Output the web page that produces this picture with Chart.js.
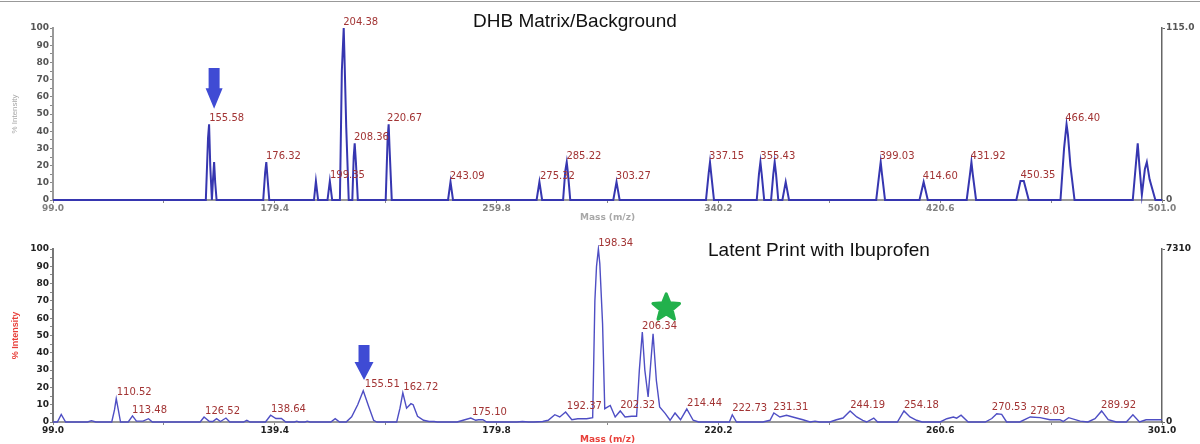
<!DOCTYPE html>
<html>
<head>
<meta charset="utf-8">
<script src="https://cdn.jsdelivr.net/npm/chart.js@4.4.1/dist/chart.umd.min.js"></script>
<style>
  body { margin: 0; background: #fff; }
  .box { position: relative; width: 1200px; height: 222px; }
  #rule { position: absolute; left: 0; top: 1px; width: 1200px; height: 1px; background: #999; }
</style>
</head>
<body>
<div id="rule"></div>
<div class="box"><canvas id="topchart" width="1200" height="222"></canvas></div>
<div class="box"><canvas id="botchart" width="1200" height="222"></canvas></div>
<script>
// ---- DHB Matrix / Background spectrum (m/z, % intensity)
const topMz = [99.0,
  154.4, 155.2, 155.58, 156.0, 156.6, 157.0, 157.4, 157.8, 158.3,
  175.2, 175.9, 176.32, 176.7, 177.4,
  193.6, 194.3, 195.1,
  198.5, 199.35, 200.2,
  203.0, 203.7, 204.38, 204.6, 205.3, 206.2,
  207.5, 208.0, 208.36, 208.8, 209.5,
  219.6, 220.3, 220.67, 221.0, 221.8,
  242.2, 243.09, 244.0,
  274.3, 275.32, 276.3,
  283.9, 284.7, 285.22, 285.7, 286.5,
  302.1, 303.27, 304.4,
  335.7, 336.7, 337.15, 337.6, 338.6,
  354.1, 354.9, 355.43, 355.9, 356.8,
  359.3, 360.1, 360.6, 361.1, 361.9,
  363.4, 364.6, 365.8,
  397.4, 398.5, 399.03, 399.5, 400.6,
  413.1, 414.6, 416.1,
  430.2, 431.4, 431.92, 432.4, 433.6,
  448.2, 449.7, 450.9, 452.7,
  464.2, 465.5, 466.4, 466.9, 467.8, 469.3,
  490.4, 491.6, 492.2, 492.8, 493.7, 494.8, 495.5, 496.5, 498.6,
  501.0];
const topInt = [0,
  0, 36, 44, 20, 0, 12, 22, 10, 0,
  0, 16, 22, 14, 0,
  0, 11, 0,
  0, 11, 0,
  0, 75, 100, 87, 42, 0,
  0, 25, 33, 22, 0,
  0, 36, 44, 30, 0,
  0, 10.5, 0,
  0, 10.5, 0,
  0, 17, 22, 15, 0,
  0, 10.5, 0,
  0, 16, 22, 15, 0,
  0, 15, 22, 15, 0,
  0, 15, 22, 15, 0,
  0, 10.5, 0,
  0, 15, 22, 15, 0,
  0, 10.5, 0,
  0, 15, 22, 15, 0,
  0, 11, 11, 0,
  0, 30, 44, 38, 20, 0,
  0, 22, 33, 20, 3, 18, 22, 12, 0,
  0];
const topLabels   = ['155.58','176.32','199.35','204.38','208.36','220.67','243.09','275.32','285.22','303.27','337.15','355.43','399.03','414.60','431.92','450.35','466.40'];
const topLabelMz  = [155.6, 176.2, 199.4, 204.2, 208.1, 220.1, 242.8, 275.5, 285.1, 303.0, 336.8, 355.4, 398.6, 414.3, 431.6, 449.7, 465.9];
const topLabelInt = [44, 22, 11, 100, 33, 44, 10.5, 10.5, 22, 10.5, 22, 22, 22, 10.5, 22, 11, 44];
const topTicks = [99.0, 179.4, 259.8, 340.2, 420.6, 501.0];

// ---- Latent print with Ibuprofen spectrum
const botMz = [99.0, 99.8, 100.5, 101.3, 105.3, 106.0, 106.8,
  109.7, 110.2, 110.52, 110.9, 111.3,
  112.7, 113.48, 114.2, 115.4, 116.4, 117.1,
  125.8, 126.52, 127.5, 128.1, 128.8, 129.5, 130.5, 131.2,
  133.7, 134.3, 134.9,
  137.7, 138.64, 139.6, 140.6, 141.4,
  143.0, 143.4, 143.8, 144.9, 145.3, 145.8,
  149.6, 150.4, 151.2, 152.4, 153.4, 154.5, 155.51, 156.5, 157.4, 158.0,
  161.6, 162.2, 162.72, 163.4, 164.2, 164.6, 165.4, 166.5, 167.5, 168.4, 169.0,
  172.6, 173.7, 175.1, 176.0, 176.5, 177.3, 178.0,
  183.5, 184.5, 185.6, 186.6, 188.2, 189.2, 190.4, 191.3, 192.37, 193.5, 194.6, 196.2, 197.3,
  197.7, 198.0, 198.34, 198.6, 199.1, 199.5, 200.5, 201.4, 202.32, 203.2, 204.4, 205.3,
  205.8, 206.34, 206.8, 207.4, 207.9, 208.3, 208.9, 209.5, 210.5, 211.4, 212.3, 213.3, 214.44, 215.6, 216.6, 218.8,
  222.2, 222.73, 223.5, 226.0, 228.3, 229.6, 230.3, 231.4, 232.6, 234.4, 235.6, 236.9, 237.8, 238.6,
  240.5, 241.7, 242.9, 244.19, 245.4, 246.5, 247.2, 248.5, 249.2, 251.5, 252.8, 254.0, 255.1, 256.3, 257.3,
  260.6, 261.8, 263.0, 263.6, 264.4, 265.7, 268.8, 270.0, 270.9, 271.8, 272.7,
  275.1, 277.0, 278.8, 280.6, 282.4, 283.0, 284.0, 286.1, 287.5, 288.8, 290.0, 291.2, 292.7,
  294.5, 295.7, 296.9, 298.1, 301.0];
const botInt = [0, 0, 4.4, 0, 0, 0.8, 0,
  0, 7, 13.5, 7, 0,
  0, 3.5, 0.5, 0.5, 1.9, 0,
  0, 2.9, 0.3, 0.3, 1.9, 0.3, 2.3, 0,
  0, 1, 0,
  0, 3.9, 2, 2, 0,
  0, 0.5, 0, 0, 0.5, 0,
  0, 1.9, 0, 0, 3, 10, 18, 9, 1, 0,
  0, 8, 16.8, 8, 10.6, 10, 3.3, 1, 0.3, 0.3, 0,
  0, 1, 2.3, 1, 1.3, 1.3, 0,
  0, 0.3, 0, 0, 0.3, 1, 4.2, 2.9, 5.8, 1.3, 1.9, 1.9, 2.5,
  70, 90, 100, 91.5, 57, 7.7, 9.6, 2.9, 6.4, 2.9, 3.3, 3.3,
  30, 52, 30, 14.5, 35, 51, 24, 8.7, 5, 1, 5.2, 1.3, 7.5, 1, 0, 0,
  0, 4.2, 0, 0, 0, 1, 5.2, 2.9, 3.9, 2.3, 1.3, 0, 0.5, 0,
  0, 1.3, 2.3, 6.4, 2.9, 1, 0, 2.3, 0, 0, 0, 6.4, 2.9, 1, 0,
  0, 1.9, 2.9, 2.2, 3.9, 0, 0, 2, 4.8, 4.4, 0,
  0, 2.9, 2.5, 1.3, 1.3, 0.3, 2.5, 0.5, 0, 1.9, 6.4, 1.3, 0,
  0, 4.2, 0, 1.3, 1.3];
const botLabels   = ['110.52','113.48','126.52','138.64','155.51','162.72','175.10','192.37','198.34','202.32','206.34','214.44','222.73','231.31','244.19','254.18','270.53','278.03','289.92'];
const botLabelMz  = [110.6, 113.4, 126.7, 138.7, 155.8, 162.8, 175.3, 192.6, 198.3, 202.3, 206.3, 214.5, 222.7, 230.2, 244.2, 254.0, 270.0, 277.0, 289.9];
const botLabelInt = [13.5, 3.5, 2.9, 3.9, 18, 16.8, 2.3, 5.8, 100, 6.4, 52, 7.5, 4.2, 5.2, 6.4, 6.4, 4.8, 2.9, 6.4];
const botTicks = [99.0, 139.4, 179.8, 220.2, 260.6, 301.0];

const toPoints = (xs, ys) => xs.map((x, i) => ({ x: x, y: ys[i] }));

// annotations drawn on top of the spectra
const decorations = {
  plugin: {
    id: 'decorations',
    afterDatasetsDraw(chart, args, o) {
      const ctx = chart.ctx;
      const xs = chart.scales.x, ys = chart.scales.y;
      ctx.save();
      // peak labels
      ctx.font = '10px "DejaVu Sans"';
      ctx.fillStyle = '#a23434';
      ctx.textAlign = 'left';
      ctx.textBaseline = 'bottom';
      o.labels.forEach((t, i) => {
        ctx.fillText(t, xs.getPixelForValue(o.labelMz[i]), ys.getPixelForValue(o.labelInt[i]) - 1);
      });
      // blue arrow
      const a = o.arrow;
      const ax = xs.getPixelForValue(a.mz);
      const yTop = ys.getPixelForValue(a.top), yBase = ys.getPixelForValue(a.base), yTip = ys.getPixelForValue(a.tip);
      ctx.fillStyle = '#3f4bd4';
      ctx.beginPath();
      ctx.moveTo(ax - a.shaft / 2, yTop);
      ctx.lineTo(ax + a.shaft / 2, yTop);
      ctx.lineTo(ax + a.shaft / 2, yBase);
      ctx.lineTo(ax + a.head / 2, yBase);
      ctx.lineTo(ax, yTip);
      ctx.lineTo(ax - a.head / 2, yBase);
      ctx.lineTo(ax - a.shaft / 2, yBase);
      ctx.closePath();
      ctx.fill();
      // green star
      if (o.star) {
        const cx = xs.getPixelForValue(o.star.mz), cy = ys.getPixelForValue(o.star.int);
        ctx.fillStyle = '#22b14c';
        ctx.strokeStyle = '#22b14c';
        ctx.lineWidth = 3;
        ctx.lineJoin = 'round';
        ctx.beginPath();
        for (let k = 0; k < 10; k++) {
          const r = k % 2 === 0 ? 14 : 6.2;
          const ang = -Math.PI / 2 + k * Math.PI / 5;
          const px = cx + r * Math.cos(ang), py = cy + r * Math.sin(ang);
          if (k === 0) ctx.moveTo(px, py); else ctx.lineTo(px, py);
        }
        ctx.closePath();
        ctx.fill();
        ctx.stroke();
      }
      // panel title
      ctx.font = '19px "Liberation Sans", Arial';
      ctx.fillStyle = '#111';
      ctx.textBaseline = 'middle';
      ctx.fillText(o.title, o.titleX, o.titleY);
      ctx.restore();
    }
  }
};

function makeChart(id, cfg) {
  const ctx = document.getElementById(id).getContext('2d');
  const minor = [];
  for (let i = 0; i < cfg.ticks.length - 1; i++) minor.push((cfg.ticks[i] + cfg.ticks[i + 1]) / 2);
  return new Chart(ctx, {
    type: 'line',
    data: {
      datasets: [{
        data: toPoints(cfg.mz, cfg.int),
        borderColor: cfg.lineColor,
        borderWidth: cfg.lineWidth,
        pointRadius: 0,
        tension: 0,
        fill: false,
        clip: 4
      }]
    },
    plugins: [decorations.plugin],
    options: {
      responsive: false,
      devicePixelRatio: 1,
      animation: false,
      layout: { padding: { top: cfg.padTop, left: 0, right: 0, bottom: 0 } },
      plugins: {
        legend: { display: false },
        tooltip: { enabled: false },
        decorations: cfg.deco
      },
      scales: {
        x: {
          type: 'linear',
          min: cfg.ticks[0],
          max: cfg.ticks[cfg.ticks.length - 1],
          afterFit: s => { s.height = 22; },
          afterBuildTicks: s => { s.ticks = cfg.ticks.concat(minor).sort((p, q) => p - q).map(v => ({ value: v })); },
          grid: { drawOnChartArea: false, drawTicks: true, tickLength: 3, color: '#888' },
          border: { display: true, color: '#999', width: 2 },
          ticks: {
            autoSkip: false, maxRotation: 0, padding: 0,
            color: cfg.tickColor,
            font: { family: '"DejaVu Sans"', size: 9, weight: 'bold' },
            callback: v => cfg.ticks.some(m => Math.abs(m - v) < 1e-6) ? v.toFixed(1) : ''
          },
          title: {
            display: true, text: 'Mass (m/z)', color: cfg.axisTitleColor,
            font: { family: '"DejaVu Sans"', size: 9, weight: 'bold' },
            padding: { top: 0, bottom: -1 }
          }
        },
        y: {
          position: 'left',
          min: 0, max: 100,
          afterFit: s => { s.width = 53; },
          grid: { drawOnChartArea: false, drawTicks: true, tickLength: 3, color: '#888' },
          border: { display: true, color: cfg.yBorder, width: 2 },
          ticks: {
            stepSize: 5, padding: 1, autoSkip: false,
            color: cfg.yTickColor,
            font: { family: '"DejaVu Sans"', size: 9, weight: 'bold' },
            callback: v => v % 10 === 0 ? String(v) : ''
          },
          title: {
            display: true, text: '% Intensity', color: cfg.axisTitleColor,
            font: { family: '"Liberation Sans Narrow", "Liberation Sans"', size: cfg.axisTitleSize, weight: cfg.axisTitleWeight },
            padding: { top: 10, bottom: 0 }
          }
        },
        y2: {
          position: 'right',
          min: 0, max: cfg.rightMax,
          afterFit: s => { s.width = 38; },
          afterBuildTicks: s => { s.ticks = [{ value: 0 }, { value: cfg.rightMax }]; },
          grid: { drawOnChartArea: false, drawTicks: true, tickLength: 3, color: '#666' },
          border: { display: true, color: '#666', width: 1.5 },
          ticks: {
            padding: 1,
            color: cfg.yTickColor,
            font: { family: '"DejaVu Sans"', size: 9, weight: 'bold' },
            callback: v => v === 0 ? '0' : cfg.rightLabel
          }
        }
      }
    }
  });
}

makeChart('topchart', {
  mz: topMz, int: topInt, ticks: topTicks,
  lineColor: '#3636b0', lineWidth: 2,
  padTop: 28, rightMax: 115, rightLabel: '115.0',
  tickColor: '#808080', yTickColor: '#555', yBorder: '#999',
  axisTitleColor: '#a8a8a8', axisTitleWeight: 'normal', axisTitleSize: 8,
  deco: {
    labels: topLabels, labelMz: topLabelMz, labelInt: topLabelInt,
    arrow: { mz: 157.4, top: 76.7, base: 65, tip: 53, shaft: 11, head: 17 },
    star: null,
    title: 'DHB Matrix/Background', titleX: 473, titleY: 22
  }
});

makeChart('botchart', {
  mz: botMz, int: botInt, ticks: botTicks,
  lineColor: '#4e4ec4', lineWidth: 1.4,
  padTop: 27, rightMax: 7310, rightLabel: '7310',
  tickColor: '#222', yTickColor: '#222', yBorder: '#777',
  axisTitleColor: '#e8403a', axisTitleWeight: 'bold', axisTitleSize: 9,
  deco: {
    labels: botLabels, labelMz: botLabelMz, labelInt: botLabelInt,
    arrow: { mz: 155.65, top: 44.5, base: 34.7, tip: 24.3, shaft: 11, head: 19 },
    star: { mz: 210.7, int: 66 },
    title: 'Latent Print with Ibuprofen', titleX: 708, titleY: 28.5
  }
});
</script>
</body>
</html>
